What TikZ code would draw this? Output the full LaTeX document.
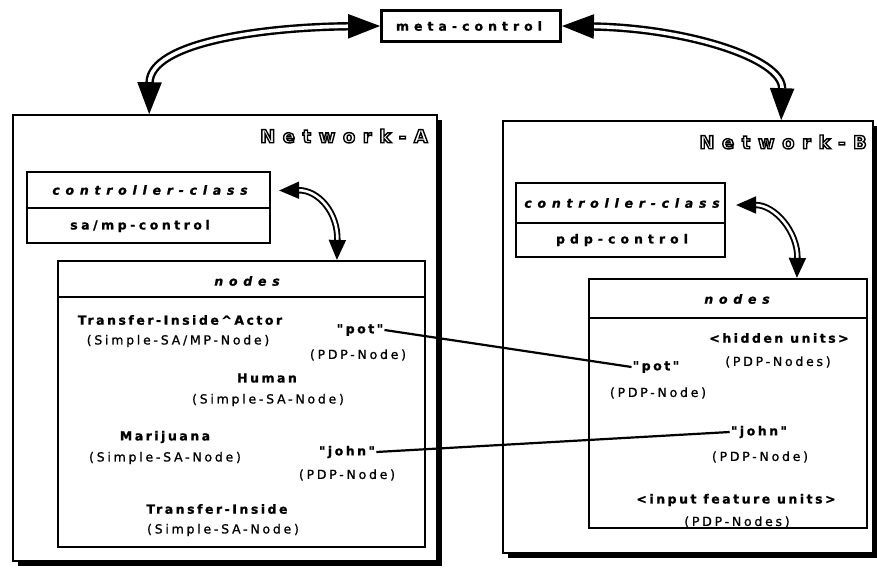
\documentclass[tikz,border=0pt]{standalone}
\usepackage{fontspec}
\setmainfont{DejaVu Sans}
\newfontfamily\lblfont[LetterSpace=22,FakeBold=0.9]{DejaVu Sans}
\newfontfamily\boldlbl[LetterSpace=20,FakeBold=1.2]{DejaVu Sans Bold}
\newfontfamily\ccfont[LetterSpace=46,FakeBold=1.1]{DejaVu Sans Bold Oblique}
\newfontfamily\ctlfont[LetterSpace=40,FakeBold=1.1]{DejaVu Sans Bold}
\newfontfamily\ctlfontB[LetterSpace=28,FakeBold=1.1]{DejaVu Sans Bold}
\newfontfamily\netfont[LetterSpace=42]{DejaVu Sans Bold}
\newcommand{\outlinetext}[1]{\special{pdf:literal direct 1 Tr 1.4 w}#1\special{pdf:literal direct 0 Tr}}
\usetikzlibrary{arrows.meta,calc,shadows}
\begin{document}
\begin{tikzpicture}[x=1pt,y=-1pt,
  netbox/.style={draw, fill=white, line width=1.6pt, inner sep=0pt,
    drop shadow={shadow xshift=4.5pt, shadow yshift=-4.5pt, fill=black, opacity=1}},
  plainbox/.style={draw, fill=white, line width=2.2pt, inner sep=0pt},
  bl/.style={inner sep=1pt, font=\boldlbl\fontsize{12.5}{14}\selectfont},
  rl/.style={inner sep=1pt, font=\lblfont\fontsize{12.5}{14}\selectfont},
  hdr/.style={inner sep=1pt, font=\ccfont\fontsize{12.5}{15}\selectfont},
  ctl/.style={inner sep=1pt, font=\ctlfont\fontsize{12.5}{15}\selectfont},
  ctlb/.style={inner sep=1pt, font=\ctlfontB\fontsize{12.5}{15}\selectfont},
  netlbl/.style={inner sep=0pt, anchor=east, font=\netfont\fontsize{18}{20}\selectfont},
  bigarrow/.style={double=white, double distance=3.6pt, line width=2.4pt,
    {Triangle[length=32pt,width=24pt]}-{Triangle[length=32pt,width=24pt]}},
  smallarrow/.style={double=white, double distance=2.6pt, line width=1.9pt,
    {Triangle[length=20pt,width=17pt]}-{Triangle[length=20pt,width=17pt]}},
  link/.style={line width=2.2pt}
]
\useasboundingbox (0,0) rectangle (877,573);

% outer network boxes
\node[netbox, minimum width=424pt, minimum height=446pt] (netA) at (225,338) {};
\node[netbox, minimum width=370pt, minimum height=432pt] (netB) at (688,337) {};
\node[netlbl] (labA) at (428,136) {\outlinetext{Network-A}};
\node[netlbl] (labB) at (867,142) {\outlinetext{Network-B}};

% meta-control
\node[draw, fill=white, line width=2.8pt, minimum width=179pt, minimum height=31pt, inner sep=0pt] (mc) at (471,26) {};
\node[ctl] (mctext) at (469,26) {meta-control};

% controller-class A
\node[plainbox, minimum width=243pt, minimum height=71pt] (ccA) at (148.5,207.5) {};
\draw[line width=2.2pt] (ccA.west |- 0,208) -- (ccA.east |- 0,208);
\node[hdr] (ccAh) at (150,190) {controller-class};
\node[ctlb] (ccAc) at (140,226) {sa/mp-control};

% controller-class B
\node[plainbox, minimum width=209pt, minimum height=74pt] (ccB) at (620.5,220) {};
\draw[line width=2.2pt] (ccB.west |- 0,223) -- (ccB.east |- 0,223);
\node[hdr] (ccBh) at (622,203) {controller-class};
\node[ctl] (ccBc) at (622,240) {pdp-control};

% nodes box A
\node[plainbox, minimum width=367pt, minimum height=286pt] (ndA) at (241.5,404) {};
\draw[line width=2.2pt] (ndA.west |- 0,297) -- (ndA.east |- 0,297);
\node[hdr] (ndAh) at (247,281) {nodes};

% nodes box B
\node[plainbox, minimum width=278pt, minimum height=249pt] (ndB) at (728,403.5) {};
\draw[line width=2.2pt] (ndB.west |- 0,318) -- (ndB.east |- 0,318);
\node[hdr] (ndBh) at (737,299) {nodes};

% texts in A
\node[bl] (tiaA) at (180,320) {Transfer-Inside\textasciicircum Actor};
\node[rl] (tiaAs) at (178,341) {(Simple-SA/MP-Node)};
\node[bl] (potA) at (360,330) {"pot"};
\node[rl] (potAs) at (358,355) {(PDP-Node)};
\node[bl] (hum) at (267,378) {Human};
\node[rl] (hums) at (268,400) {(Simple-SA-Node)};
\node[bl] (mar) at (165,437) {Marijuana};
\node[rl] (mars) at (165,458) {(Simple-SA-Node)};
\node[bl] (johnA) at (347,452) {"john"};
\node[rl] (johnAs) at (347,475) {(PDP-Node)};
\node[bl] (tiA) at (217,509) {Transfer-Inside};
\node[rl] (tiAs) at (223,530) {(Simple-SA-Node)};

% texts in B
\node[bl] (hid) at (779,338) {<hidden units>};
\node[rl] (hids) at (778,362) {(PDP-Nodes)};
\node[bl] (potB) at (656,367) {"pot"};
\node[rl] (potBs) at (658,393) {(PDP-Node)};
\node[bl] (johnB) at (759,432) {"john"};
\node[rl] (johnBs) at (760,457) {(PDP-Node)};
\node[bl] (inp) at (736,500) {<input feature units>};
\node[rl] (inps) at (737,522) {(PDP-Nodes)};

% links
\draw[link] (potA.east) -- (potB.west);
\draw[link] (johnA.east) -- (johnB.west);

% big arrows
\coordinate (aA) at ($(netA.north west)+(137,0)$);
\coordinate (aB) at ($(netB.north west)+(279,0)$);
\draw[bigarrow] (mc.west) .. controls (265,27) and (150,42) .. (aA);
\draw[bigarrow] (mc.east) .. controls (685,28) and (783,58) .. (aB);

% small arrows
\coordinate (sA) at ($(ndA.north west)+(280,0)$);
\coordinate (sB) at ($(ndB.north west)+(209,0)$);
\draw[smallarrow] ($(ccA.east)+(8,-17)$) .. controls (318,190) and (338,212) .. (sA);
\draw[smallarrow] ($(ccB.east)+(10,-15)$) .. controls (775,205) and (798,232) .. (sB);
\end{tikzpicture}
\end{document}
